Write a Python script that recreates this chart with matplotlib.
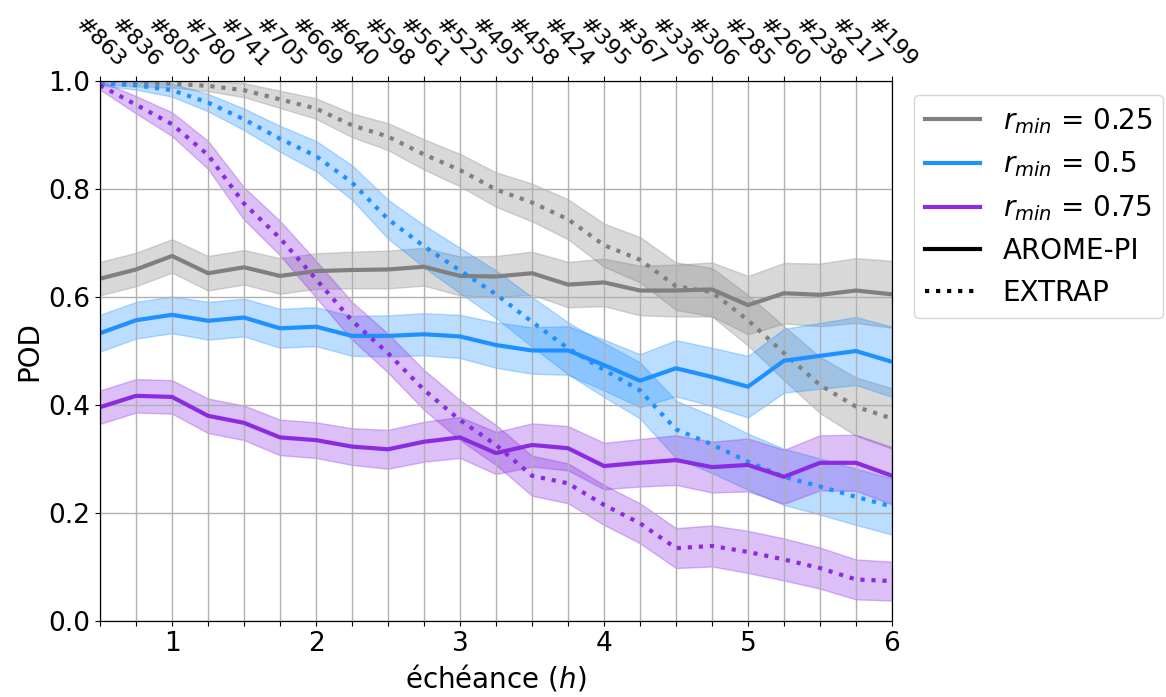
import numpy as np
import matplotlib
matplotlib.use('Agg')
import matplotlib.pyplot as plt

# lead times (h) and number of cases per lead time
lead = np.arange(0.5, 6.01, 0.25)
counts = ['#863', '#836', '#805', '#780', '#741', '#705', '#669', '#640', '#598',
          '#561', '#525', '#495', '#458', '#424', '#395', '#367', '#336', '#306',
          '#285', '#260', '#238', '#217', '#199']

# AROME-PI (solid)
arome_025 = [0.634, 0.651, 0.676, 0.644, 0.655, 0.639, 0.648, 0.650, 0.651, 0.656,
             0.639, 0.638, 0.644, 0.623, 0.627, 0.612, 0.612, 0.614, 0.585, 0.607,
             0.604, 0.612, 0.605]
arome_050 = [0.533, 0.557, 0.567, 0.556, 0.562, 0.542, 0.545, 0.528, 0.528, 0.531,
             0.527, 0.511, 0.501, 0.501, 0.474, 0.445, 0.468, 0.452, 0.434, 0.482,
             0.491, 0.500, 0.480]
arome_075 = [0.396, 0.417, 0.415, 0.380, 0.367, 0.340, 0.335, 0.323, 0.318, 0.332,
             0.340, 0.311, 0.326, 0.320, 0.287, 0.293, 0.298, 0.285, 0.289, 0.267,
             0.293, 0.293, 0.269]

# EXTRAP (dotted)
extrap_025 = [0.997, 0.995, 0.995, 0.991, 0.983, 0.966, 0.949, 0.918, 0.897, 0.864,
              0.835, 0.799, 0.775, 0.744, 0.696, 0.669, 0.620, 0.609, 0.557, 0.496,
              0.437, 0.397, 0.375]
extrap_050 = [0.996, 0.992, 0.983, 0.960, 0.929, 0.893, 0.861, 0.812, 0.744, 0.694,
              0.649, 0.605, 0.554, 0.505, 0.465, 0.427, 0.355, 0.327, 0.295, 0.267,
              0.249, 0.230, 0.212]
extrap_075 = [0.992, 0.956, 0.920, 0.863, 0.773, 0.709, 0.633, 0.556, 0.496, 0.428,
              0.372, 0.326, 0.269, 0.255, 0.215, 0.181, 0.135, 0.139, 0.128, 0.114,
              0.098, 0.077, 0.074]

# half-width of the confidence bands
band_arome_025 = [0.031, 0.031, 0.031, 0.032, 0.032, 0.033, 0.033, 0.034, 0.035, 0.035,
                  0.036, 0.038, 0.040, 0.042, 0.044, 0.046, 0.048, 0.050, 0.054, 0.056,
                  0.058, 0.060, 0.062]
band_arome_050 = [0.034, 0.034, 0.034, 0.035, 0.035, 0.036, 0.036, 0.037, 0.038, 0.039,
                  0.040, 0.042, 0.043, 0.045, 0.047, 0.049, 0.052, 0.054, 0.057, 0.059,
                  0.061, 0.063, 0.065]
band_arome_075 = [0.031, 0.031, 0.031, 0.032, 0.032, 0.033, 0.033, 0.034, 0.036, 0.037,
                  0.038, 0.039, 0.040, 0.041, 0.043, 0.044, 0.046, 0.047, 0.049, 0.050,
                  0.051, 0.052, 0.053]
band_extrap_025 = [0.003, 0.005, 0.007, 0.010, 0.013, 0.016, 0.019, 0.022, 0.025, 0.028,
                   0.030, 0.032, 0.035, 0.037, 0.040, 0.042, 0.044, 0.045, 0.047, 0.050,
                   0.052, 0.054, 0.056]
band_extrap_050 = [0.004, 0.008, 0.012, 0.016, 0.020, 0.024, 0.028, 0.032, 0.036, 0.039,
                   0.042, 0.044, 0.046, 0.048, 0.050, 0.052, 0.053, 0.053, 0.052, 0.052,
                   0.052, 0.052, 0.052]
band_extrap_075 = [0.008, 0.016, 0.022, 0.026, 0.030, 0.032, 0.034, 0.035, 0.036, 0.037,
                   0.037, 0.037, 0.037, 0.037, 0.037, 0.037, 0.037, 0.038, 0.039, 0.039,
                   0.038, 0.037, 0.036]

colors = ['grey', 'dodgerblue', 'blueviolet']
labels = ['$r_{min}$ = 0.25', '$r_{min}$ = 0.5', '$r_{min}$ = 0.75']
arome = [arome_025, arome_050, arome_075]
extrap = [extrap_025, extrap_050, extrap_075]
band_a = [band_arome_025, band_arome_050, band_arome_075]
band_e = [band_extrap_025, band_extrap_050, band_extrap_075]

fig = plt.figure(figsize=(11.66, 6.97), dpi=100)
ax = fig.add_axes([0.0858, 0.109, 0.6792, 0.7748])

for c, a, e, ba, be in zip(colors, arome, extrap, band_a, band_e):
    a = np.array(a); e = np.array(e); ba = np.array(ba); be = np.array(be)
    ax.fill_between(lead, a - ba, a + ba, color=c, alpha=0.3, lw=1)
    ax.fill_between(lead, e - be, e + be, color=c, alpha=0.3, lw=1)
    ax.plot(lead, a, color=c, lw=3, ls='-')
    ax.plot(lead, e, color=c, lw=3, ls=':')

ax.set_xlim(0.5, 6)
ax.set_ylim(0, 1)
ax.set_xticks(lead)
ax.set_xticklabels([str(int(v)) if v == int(v) else '' for v in lead])
ax.set_yticks(np.arange(0, 1.01, 0.2))
ax.tick_params(labelsize=19)
ax.grid(True, color='#b0b0b0', lw=1)
ax.set_xlabel('échéance ($h$)', fontsize=20)
ax.set_ylabel('POD', fontsize=20)

top = ax.twiny()
top.set_xlim(ax.get_xlim())
top.set_xticks(lead)
top.set_xticklabels(counts, rotation=-45, fontsize=16)

# legend: colours for r_min, line style for model
handles = [plt.Line2D([], [], color=c, lw=3) for c in colors]
handles += [plt.Line2D([], [], color='black', lw=3, ls='-'),
            plt.Line2D([], [], color='black', lw=3, ls=':')]
ax.legend(handles, labels + ['AROME-PI', 'EXTRAP'], loc='upper left',
          bbox_to_anchor=(1.01, 1.0), fontsize=20, handlelength=2.0)

fig.savefig('out.png', dpi=100)
